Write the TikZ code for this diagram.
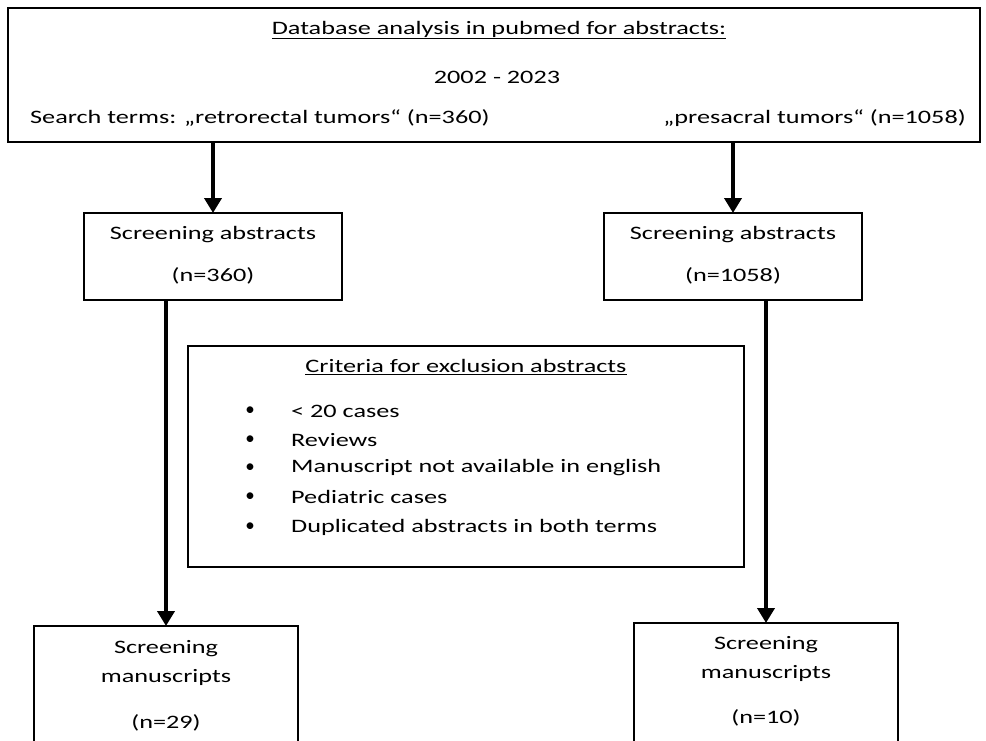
\documentclass[tikz,border=0pt]{standalone}
\usepackage{fontspec}
\usepackage{graphicx}
\setmainfont{Carlito}
\usetikzlibrary{arrows.meta}
\newcommand{\stx}[1]{\scalebox{1.38}[1]{#1}}
\begin{document}
\begin{tikzpicture}[x=1pt,y=-1pt,
  box/.style={draw=black,line width=1.8pt},
  txt/.style={inner sep=0pt,font=\fontsize{19}{22}\selectfont},
  flow/.style={line width=4pt,-{Triangle[width=17pt,length=15pt]}}]
\useasboundingbox (0,0) rectangle (986,740);
\clip (0,0) rectangle (986,740);
% top box
\draw[box] (8,8) rectangle (980,142);
\node[txt] (t1) at (499,30) {\stx{\underline{Database analysis in pubmed for abstracts:}}};
\node[txt] (t2) at (497,77) {\stx{2002 - 2023}};
\node[txt,anchor=west] (t3) at (30,118) {\stx{Search terms: „retrorectal tumors“ (n=360)}};
\node[txt,anchor=east] (t4) at (966,118) {\stx{„presacral tumors“ (n=1058)}};
\coordinate (aL) at (213,142);
\coordinate (aR) at (733,142);
% screening abstracts
\draw[box] (84,213) rectangle (342,300);
\node[txt] (sa1) at (213,235) {\stx{Screening abstracts}};
\node[txt] (sa2) at (213,276) {\stx{(n=360)}};
\draw[box] (604,213) rectangle (862,300);
\node[txt] (sb1) at (733,235) {\stx{Screening abstracts}};
\node[txt] (sb2) at (733,276) {\stx{(n=1058)}};
\coordinate (bL) at (213,213);
\coordinate (bR) at (733,213);
\draw[flow] (aL) -- (bL);
\draw[flow] (aR) -- (bR);
% criteria box
\draw[box] (188,346) rectangle (744,567);
\node[txt] (c0) at (466,367) {\stx{\underline{Criteria for exclusion abstracts}}};
\foreach \y/\t [count=\i] in {411/{< 20 cases},440/{Reviews},468/{Manuscript not available in english},497/{Pediatric cases},527/{Duplicated abstracts in both terms}}{
  \node[txt] (cb\i) at (250,\y) {•};
  \node[txt,anchor=west] (ct\i) at (291,\y) {\stx{\t}};
}
% bottom boxes
\draw[box] (34,626) rectangle (298,760);
\node[txt] (m1) at (166,649) {\stx{Screening}};
\node[txt] (m2) at (166,677) {\stx{manuscripts}};
\node[txt] (m3) at (166,723) {\stx{(n=29)}};
\draw[box] (634,623) rectangle (898,760);
\node[txt] (n1) at (766,645) {\stx{Screening}};
\node[txt] (n2) at (766,673) {\stx{manuscripts}};
\node[txt] (n3) at (766,718) {\stx{(n=10)}};
\coordinate (cL0) at (166,300);
\coordinate (cL1) at (166,626);
\coordinate (cR0) at (766,300);
\coordinate (cR1) at (766,623);
\draw[flow] (cL0) -- (cL1);
\draw[flow] (cR0) -- (cR1);
\end{tikzpicture}
\end{document}
